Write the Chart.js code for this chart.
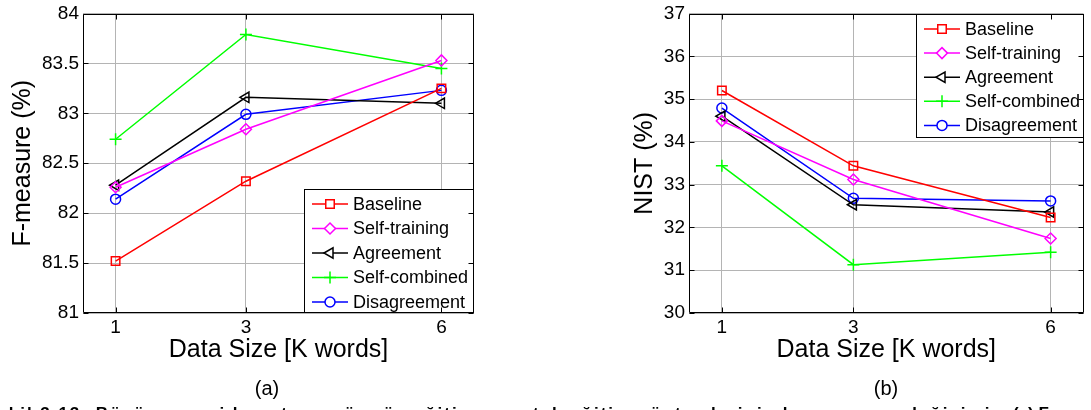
<!DOCTYPE html>
<html><head><meta charset="utf-8">
<script src="https://cdn.jsdelivr.net/npm/chart.js@4/dist/chart.umd.min.js"></script>
<style>
html,body{margin:0;padding:0;background:#fff;width:1091px;height:410px;overflow:hidden;font-family:"Liberation Sans",Arial,sans-serif;}
#ca{position:absolute;left:0;top:0;}
#cb{position:absolute;left:545px;top:0;}
.lab{position:absolute;font-size:20px;line-height:20px;color:#000;transform:translate(-50%,-50%);}
.cap{position:absolute;top:405px;height:5px;overflow:hidden;white-space:nowrap;font-size:17px;line-height:17px;font-weight:bold;color:#000;}
</style></head>
<body>
<canvas id="ca" width="540" height="410"></canvas>
<canvas id="cb" width="546" height="410"></canvas>
<div class="lab" style="left:267px;top:388px;">(a)</div>
<div class="lab" style="left:886px;top:388px;">(b)</div>
<div class="cap" style="left:-16px;"><span id="capText">Şekil 3.13: Büyüyen veri boyutuna göre öz-eğitim ve ortak eğitim yöntemlerinin başarımının değişimi:</span></div>
<div class="cap" style="left:1013px;">(a) F-measure, (b) NIST</div>
<script>
// ---- data ----
const dataSizes = [1, 3, 6];
const xTicks = [1, 3, 6];
const seriesNames = ['Baseline', 'Self-training', 'Agreement', 'Self-combined', 'Disagreement'];
const fBaseline     = [81.52, 82.32, 83.25];
const fSelfTraining = [82.26, 82.84, 83.53];
const fAgreement    = [82.28, 83.16, 83.10];
const fSelfCombined = [82.74, 83.79, 83.45];
const fDisagreement = [82.14, 82.99, 83.23];
const nBaseline     = [35.20, 33.44, 32.23];
const nSelfTraining = [34.49, 33.12, 31.74];
const nAgreement    = [34.60, 32.53, 32.36];
const nSelfCombined = [33.44, 31.13, 31.42];
const nDisagreement = [34.79, 32.68, 32.62];
const fTicks = [81, 81.5, 82, 82.5, 83, 83.5, 84];
const nTicks = [30, 31, 32, 33, 34, 35, 36, 37];

// ---- caption fit (layout only) ----
(function () {
  const sp = document.getElementById('capText');
  const target = 1013 + 16 - 14;
  const w = sp.getBoundingClientRect().width;
  const n = sp.textContent.length;
  if (w > 0 && n > 0) sp.style.letterSpacing = ((target - w) / n) + 'px';
})();

// ---- styles ----
const FAM = '"Liberation Sans", Arial, sans-serif';
const colors = ['#ff0000', '#ff00ff', '#000000', '#00ff00', '#0000ff'];
const markers = ['rect', 'rectRot', 'triangle', 'cross', 'circle'];
const rotations = [0, 0, -90, 0, 0];
const radii = [6, 5.5, 6, 6, 5];
const GRID = '#b4b4b4';

function makeDatasets(seriesArrays) {
  return seriesArrays.map((arr, i) => ({
    label: seriesNames[i],
    data: dataSizes.map((x, j) => ({x: x, y: arr[j]})),
    borderColor: colors[i],
    backgroundColor: 'rgba(0,0,0,0)',
    pointBackgroundColor: 'rgba(0,0,0,0)',
    pointBorderColor: colors[i],
    pointStyle: markers[i],
    pointRotation: rotations[i],
    pointRadius: radii[i],
    pointBorderWidth: 1.5,
    borderWidth: 1.5,
    tension: 0,
    fill: false
  }));
}

const framePlugin = {
  id: 'frame',
  afterDraw(chart) {
    const ctx = chart.ctx, a = chart.chartArea;
    ctx.save();
    ctx.strokeStyle = '#000';
    ctx.lineWidth = 1;
    const L = Math.round(a.left) + 0.5, R = Math.round(a.right) - 0.5;
    const T = Math.round(a.top) + 0.5, B = Math.round(a.bottom) - 0.5;
    ctx.beginPath();
    ctx.rect(L, T, R - L, B - T);
    const tl = 5;
    chart.scales.y.ticks.forEach(t => {
      const y = Math.round(chart.scales.y.getPixelForValue(t.value)) + 0.5;
      ctx.moveTo(L, y); ctx.lineTo(L + tl, y);
      ctx.moveTo(R, y); ctx.lineTo(R - tl, y);
    });
    chart.scales.x.ticks.forEach(t => {
      const x = Math.round(chart.scales.x.getPixelForValue(t.value)) + 0.5;
      ctx.moveTo(x, B); ctx.lineTo(x, B - tl);
      ctx.moveTo(x, T); ctx.lineTo(x, T + tl);
    });
    ctx.stroke();
    ctx.restore();
  }
};

const legendPlugin = {
  id: 'boxLegend',
  afterDatasetsDraw(chart, args, opts) {
    const ctx = chart.ctx, a = chart.chartArea;
    const w = opts.width, h = opts.height;
    const x0 = Math.round(a.right - w);
    const y0 = Math.round(opts.corner === 'bottom' ? a.bottom - h : a.top);
    ctx.save();
    ctx.fillStyle = '#fff';
    ctx.fillRect(x0, y0, w, h);
    ctx.strokeStyle = '#000';
    ctx.lineWidth = 1;
    ctx.strokeRect(x0 + 0.5, y0 + 0.5, w - 1, h - 1);
    chart.data.datasets.forEach((ds, i) => {
      const cy = y0 + opts.first + i * opts.step;
      const lx0 = x0 + 8, lx1 = x0 + 44;
      ctx.strokeStyle = ds.borderColor;
      ctx.lineWidth = 1.5;
      ctx.beginPath(); ctx.moveTo(lx0, cy); ctx.lineTo(lx1, cy); ctx.stroke();
      if (Chart.helpers && Chart.helpers.drawPoint) {
        ctx.fillStyle = '#fff';
        ctx.strokeStyle = ds.borderColor;
        ctx.lineWidth = 1.5;
        Chart.helpers.drawPoint(ctx, {pointStyle: ds.pointStyle, rotation: ds.pointRotation || 0, radius: ds.pointRadius, borderWidth: 1.5}, (lx0 + lx1) / 2, cy);
      }
      ctx.fillStyle = '#000';
      ctx.font = '18px ' + FAM;
      ctx.textBaseline = 'middle';
      ctx.textAlign = 'left';
      ctx.fillText(ds.label, lx1 + 5, cy + 1);
    });
    ctx.restore();
  }
};

function makeConfig(seriesArrays, yMin, yMax, yTicks, yTitle, yWidth, yTitlePad, padRight, legendOpts) {
  return {
    type: 'line',
    data: {datasets: makeDatasets(seriesArrays)},
    plugins: [legendPlugin, framePlugin],
    options: {
      responsive: false,
      animation: false,
      layout: {padding: {top: 7, right: padRight, bottom: 0, left: 0}},
      plugins: {legend: {display: false}, tooltip: {enabled: false}, boxLegend: legendOpts},
      scales: {
        x: {
          type: 'linear', min: 0.5, max: 6.5,
          afterBuildTicks: s => { s.ticks = xTicks.map(v => ({value: v})); },
          afterFit: s => { s.height = 97; },
          grid: {color: GRID, lineWidth: 1, drawTicks: false},
          border: {display: false},
          ticks: {font: {size: 19, family: FAM, lineHeight: 1}, color: '#000', padding: 5.5, maxRotation: 0, autoSkip: false, callback: v => String(v)},
          title: {display: true, text: 'Data Size [K words]', font: {size: 25, family: FAM, lineHeight: 1}, color: '#000', padding: {top: 0, bottom: 47.5}}
        },
        y: {
          min: yMin, max: yMax,
          afterBuildTicks: s => { s.ticks = yTicks.map(v => ({value: v})); },
          afterFit: s => { s.width = yWidth; },
          grid: {color: GRID, lineWidth: 1, drawTicks: false},
          border: {display: false},
          ticks: {font: {size: 19, family: FAM, lineHeight: 1}, color: '#000', padding: 4, autoSkip: false, callback: v => String(v)},
          title: {display: true, text: yTitle, font: {size: 25, family: FAM, lineHeight: 1}, color: '#000', padding: {top: yTitlePad, bottom: 0}}
        }
      }
    }
  };
}

new Chart(document.getElementById('ca'), makeConfig(
  [fBaseline, fSelfTraining, fAgreement, fSelfCombined, fDisagreement],
  81, 84, fTicks, 'F-measure (%)', 83, 10.5, 66,
  {corner: 'bottom', width: 170, height: 124, first: 15, step: 24.5}
));
new Chart(document.getElementById('cb'), makeConfig(
  [nBaseline, nSelfTraining, nAgreement, nSelfCombined, nDisagreement],
  30, 37, nTicks, 'NIST (%)', 144, 87.5, 1,
  {corner: 'top', width: 168, height: 124, first: 15, step: 24.1}
));
</script>
</body></html>
